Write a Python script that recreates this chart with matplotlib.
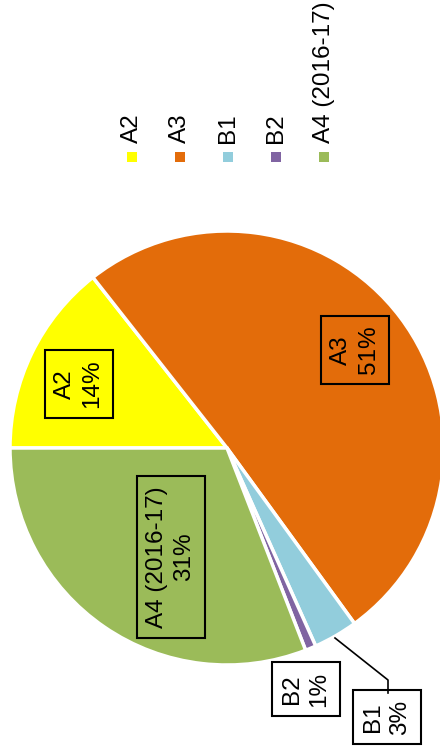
import matplotlib
matplotlib.use("Agg")
import matplotlib.pyplot as plt
from matplotlib.patches import Rectangle

# data (share of total)
categories = ["A2", "A3", "B1", "B2", "A4 (2016-17)"]
values = [14.4, 50.6, 3.3, 0.8, 30.9]
colors = ["#FFFF00", "#E36C0A", "#92CDDC", "#8064A2", "#9BBB59"]

W, H = 440, 749
plt.rcParams['font.family'] = ['Liberation Sans', 'DejaVu Sans']

fig = plt.figure(figsize=(W / 100, H / 100), dpi=100)
ax = fig.add_axes([0, 0, 1, 1])

# pie: the whole chart is turned 90 degrees, first slice starts at the left
wedges, _ = ax.pie(values, colors=colors, startangle=180, counterclock=False,
                   center=(227, H - 448), radius=217,
                   wedgeprops=dict(edgecolor='white', linewidth=2.5))
ax.set_xlim(0, W)
ax.set_ylim(0, H)
ax.set_aspect('equal')
ax.axis('off')

# data label boxes (rotated like the rest of the chart)
label_pos = [(79, 384), (355, 350), (387, 717), (306, 689), (171, 557)]
for cat, v, (x, y) in zip(categories, values, label_pos):
    ax.text(x, H - y, '{}\n{}%'.format(cat, round(v)), rotation=90,
            ha='center', va='center', multialignment='center',
            fontsize=17.5, linespacing=1.3,
            bbox=dict(boxstyle='square,pad=0.4', facecolor='none',
                      edgecolor='black', linewidth=1.5))

# leader line for B1
ax.plot([335, 388, 388], [H - 638, H - 680, H - 693], color='black', lw=1.2)

# legend, laid out along the top
leg_x = [132, 180, 228, 276, 324]
for cat, c, x in zip(categories, colors, leg_x):
    ax.add_patch(Rectangle((x - 5, H - 162), 10, 10, facecolor=c,
                           edgecolor='none'))
    ax.text(x, H - 143, cat, rotation=90, ha='center', va='bottom',
            fontsize=17.5)

fig.savefig('out.png', dpi=100)
